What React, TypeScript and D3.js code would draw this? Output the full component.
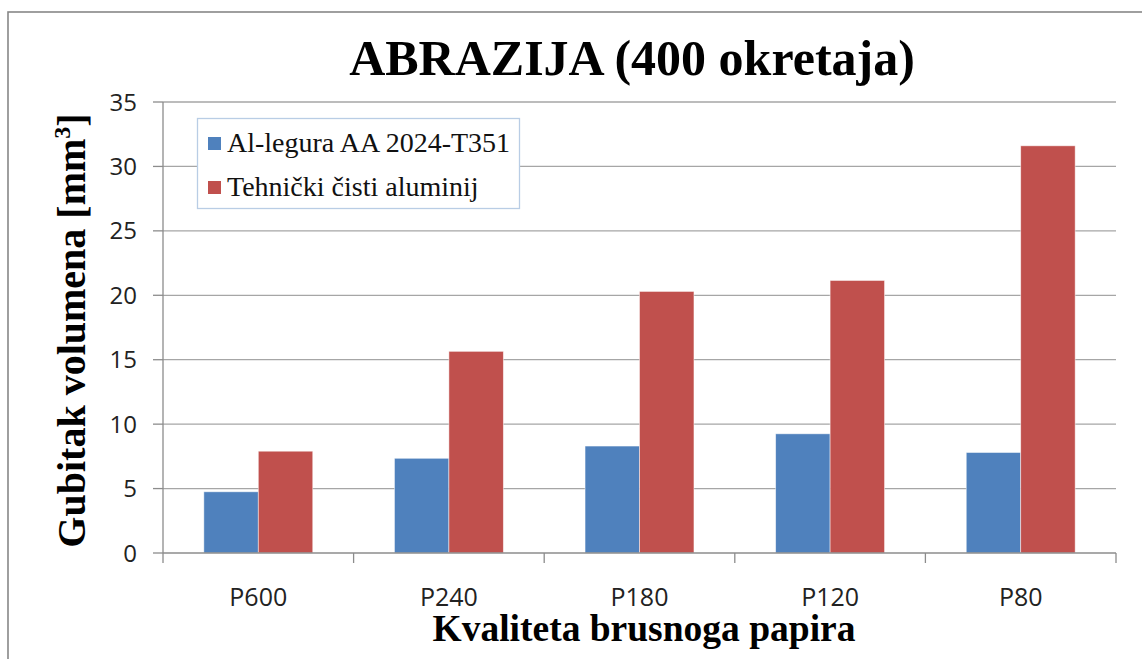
import React from "react";
import * as d3 from "d3";

const categories = ["P600", "P240", "P180", "P120", "P80"];
const seriesNames = ["Al-legura AA 2024-T351", "Tehnički čisti aluminij"];
const alloyValues = [4.75, 7.35, 8.3, 9.25, 7.8];
const pureValues = [7.9, 15.65, 20.3, 21.15, 31.6];
const yTicks = [0, 5, 10, 15, 20, 25, 30, 35];
const colors = ["#4F81BD", "#C0504D"];

const W = 1142;
const H = 659;
const plot = { left: 163, right: 1116, top: 102, bottom: 553 };

export default function App() {
  const x = d3.scaleBand<string>().domain(categories).range([plot.left, plot.right]).paddingInner(0).paddingOuter(0);
  const y = d3.scaleLinear().domain([0, 35]).range([plot.bottom, plot.top]);
  const bw = x.bandwidth() / (2 + 1.5);
  const series = [alloyValues, pureValues];

  return (
    <svg width={W} height={H} style={{ position: "absolute", left: 0, top: 0, background: "#fff" }}>
      <rect x={8} y={12} width={W + 10} height={H + 10} fill="#fff" stroke="#878787" strokeWidth={1.6} />
      <text x={632} y={75} textAnchor="middle" fontFamily="'Liberation Serif', serif" fontWeight="bold" fontSize={50}>
        ABRAZIJA (400 okretaja)
      </text>
      {yTicks.map((t) => (
        <g key={t}>
          {t > 0 && <line x1={plot.left} x2={plot.right} y1={y(t)} y2={y(t)} stroke="#a6a6a6" strokeWidth={1.3} />}
          <line x1={153} x2={plot.left} y1={y(t)} y2={y(t)} stroke="#8c8c8c" strokeWidth={1.3} />
          <text x={137} y={y(t)} dy="0.36em" textAnchor="end" fontFamily="'Open Sans', sans-serif" fontSize={24} fill="#222">
            {t}
          </text>
        </g>
      ))}
      {series.map((vals, si) =>
        vals.map((v, i) => {
          const x0 = (x(categories[i]) as number) + bw * 0.75 + si * bw;
          return (
            <rect key={si + "-" + i} x={x0} y={y(v)} width={bw} height={y(0) - y(v)} fill={colors[si]} stroke="#ffffff" strokeOpacity={0.6} strokeWidth={0.8} />
          );
        })
      )}
      <line x1={plot.left} x2={plot.right} y1={y(0)} y2={y(0)} stroke="#8c8c8c" strokeWidth={1.3} />
      <line x1={plot.left} x2={plot.left} y1={plot.top} y2={y(0)} stroke="#8c8c8c" strokeWidth={1.3} />
      {[...categories.map((c) => x(c) as number), plot.right].map((px, i) => (
        <line key={i} x1={px} x2={px} y1={y(0)} y2={y(0) + 10} stroke="#8c8c8c" strokeWidth={1.3} />
      ))}
      {categories.map((c) => (
        <text key={c} x={(x(c) as number) + x.bandwidth() / 2} y={606} textAnchor="middle" fontFamily="'Open Sans', sans-serif" fontSize={25} fill="#222">
          {c}
        </text>
      ))}
      <text x={644} y={641} textAnchor="middle" fontFamily="'Liberation Serif', serif" fontWeight="bold" fontSize={37.5}>
        Kvaliteta brusnoga papira
      </text>
      <text transform={`translate(85, ${(plot.top + plot.bottom) / 2 + 3}) rotate(-90)`} textAnchor="middle" fontFamily="'Liberation Serif', serif" fontWeight="bold" fontSize={40}>
        Gubitak volumena [mm<tspan dy={-15} fontSize={24}>3</tspan><tspan dy={15}>]</tspan>
      </text>
      <rect x={197.5} y={118.5} width={322} height={90} fill="#fff" stroke="#b9cde5" strokeWidth={1.3} />
      {seriesNames.map((n, i) => (
        <g key={n}>
          <rect x={208} y={137 + i * 44} width={13} height={13} fill={colors[i]} />
          <text x={227} y={152 + i * 44} fontFamily="'Liberation Serif', serif" fontSize={28} fill="#111">
            {n}
          </text>
        </g>
      ))}
    </svg>
  );
}
